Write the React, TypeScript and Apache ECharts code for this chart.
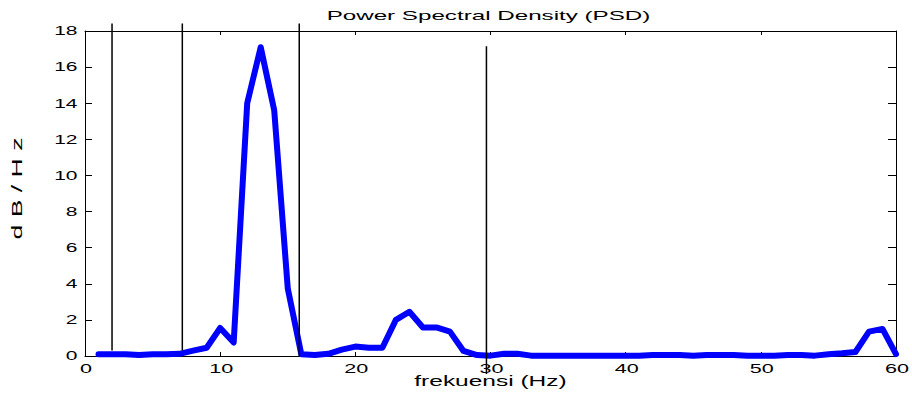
import React, { useEffect, useRef } from "react";
import * as echarts from "echarts";

const freqs = [
  1, 2, 3, 4, 5, 6, 7, 8, 9, 10, 11, 12, 13, 14, 15, 16, 17, 18, 19, 20,
  21, 22, 23, 24, 25, 26, 27, 28, 29, 30, 31, 32, 33, 34, 35, 36, 37, 38, 39, 40,
  41, 42, 43, 44, 45, 46, 47, 48, 49, 50, 51, 52, 53, 54, 55, 56, 57, 58, 59, 60,
];
const psd = [
  0.1, 0.1, 0.1, 0.05, 0.1, 0.1, 0.12, 0.3, 0.46, 1.55, 0.75, 14.0, 17.1, 13.6, 3.75, 0.1, 0.05, 0.12, 0.35, 0.52,
  0.46, 0.46, 2.0, 2.45, 1.58, 1.58, 1.35, 0.28, 0.05, 0.02, 0.12, 0.12, 0.02, 0.01, 0.01, 0.01, 0.01, 0.01, 0.01, 0.01,
  0.01, 0.06, 0.06, 0.05, 0.01, 0.05, 0.06, 0.05, 0.01, 0.01, 0.02, 0.06, 0.05, 0.02, 0.1, 0.15, 0.22, 1.35, 1.5, 0.1,
];
const markerFreqs = [2, 7.2, 15.85, 29.7];
const markerTops = [18.42, 18.42, 18.42, 17.15];
const markerBottoms = [0.3, 0.3, 0.0, -1.0];
const xTicks = [0, 10, 20, 30, 40, 50, 60];
const yTicks = [0, 2, 4, 6, 8, 10, 12, 14, 16, 18];
const titleText = "Power Spectral Density (PSD)";
const xName = "frekuensi (Hz)";
const yName = "d B / H z";

const FONT = '"Liberation Sans", Arial, sans-serif';

export default function App() {
  const ref = useRef<HTMLDivElement>(null);
  useEffect(() => {
    document.body.style.margin = "0";
    const chart = echarts.init(ref.current!, undefined, { renderer: "svg" });
    const axisLine = { show: true, onZero: false, lineStyle: { color: "#000", width: 1 } };
    const markerSeries = markerFreqs.map((f, i) => ({
      type: "line",
      data: [
        [f, markerTops[i]],
        [f, markerBottoms[i]],
      ],
      symbol: "none",
      clip: false,
      silent: true,
      z: 5,
      lineStyle: { color: "#000", width: 1.5 },
    }));
    const xAxisBase = {
      type: "value",
      min: 0,
      max: 60,
      interval: 10,
      axisLine,
      axisTick: { show: true, inside: true, length: 4, lineStyle: { color: "#000" } },
      axisLabel: { show: false },
      splitLine: { show: false },
    };
    const yAxisBase = {
      type: "value",
      min: 0,
      max: 18,
      interval: 2,
      axisLine,
      axisLabel: { show: false },
      splitLine: { show: false },
    };
    chart.setOption({
      animation: false,
      grid: { left: 85, right: 16, top: 31, bottom: 40 },
      xAxis: [
        { ...xAxisBase, position: "bottom" },
        { ...xAxisBase, position: "top" },
      ],
      yAxis: [
        { ...yAxisBase, position: "left", axisTick: { show: true, inside: true, length: 7, lineStyle: { color: "#000" } } },
        { ...yAxisBase, position: "right", axisTick: { show: true, inside: true, length: 8, lineStyle: { color: "#000" } } },
      ],
      series: [
        {
          type: "line",
          data: freqs.map((f, i) => [f, psd[i]]),
          symbol: "none",
          z: 3,
          lineStyle: { color: "#0000ff", width: 6, join: "round", cap: "round" },
        },
        ...markerSeries,
      ],
    });

    const txt = (
      text: string,
      x: number,
      y: number,
      size: number,
      scaleX: number,
      align: string,
      vAlign: string,
      rotation = 0
    ) => ({
      type: "text",
      x,
      y,
      scaleX,
      rotation,
      silent: true,
      style: {
        text,
        font: `${size}px ${FONT}`,
        fill: "#000",
        align,
        verticalAlign: vAlign,
        textAlign: align,
        textVerticalAlign: vAlign,
      },
    });

    const graphics: any[] = [];
    xTicks.forEach((v) => {
      const p = chart.convertToPixel({ gridIndex: 0 }, [v, 0]) as number[];
      graphics.push(txt(String(v), p[0] + 1, p[1] + 7, 12, 1.8, "center", "top"));
    });
    yTicks.forEach((v) => {
      const p = chart.convertToPixel({ gridIndex: 0 }, [0, v]) as number[];
      graphics.push(txt(String(v), p[0] - 7.5, p[1] + 0.5, 12, 1.75, "right", "middle"));
    });
    const xMid = chart.convertToPixel({ gridIndex: 0 }, [30, 0]) as number[];
    const yMid = chart.convertToPixel({ gridIndex: 0 }, [0, 9]) as number[];
    graphics.push(txt(titleText, xMid[0] - 2, 15.5, 13, 1.86, "center", "middle"));
    graphics.push(txt(xName, xMid[0], xMid[1] + 25, 14, 1.75, "center", "middle"));
    graphics.push(txt(yName, 17, yMid[1] - 5, 14, 1.9, "center", "middle", Math.PI / 2));
    chart.setOption({ graphic: graphics });

    return () => chart.dispose();
  }, []);
  return <div ref={ref} style={{ width: 912, height: 396 }} />;
}
